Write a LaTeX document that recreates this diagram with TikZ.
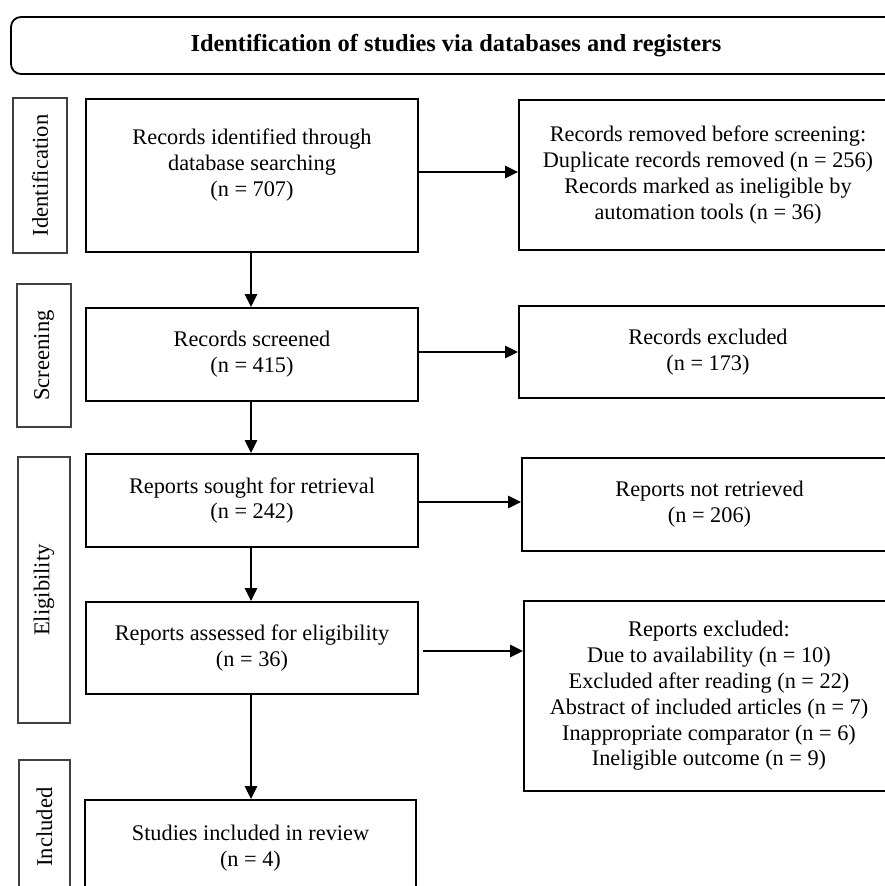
\documentclass[tikz,border=0pt]{standalone}
\usepackage{fontspec}
\setmainfont{Liberation Serif}
\usetikzlibrary{arrows.meta}
\begin{document}
\begin{tikzpicture}[x=1pt,y=-1pt,
  txt/.style={font=\fontsize{22.3}{25.8}\selectfont, align=center, inner sep=0pt},
  box/.style={draw, line width=2pt, inner sep=0pt, txt},
  lab/.style={draw=black!75, line width=1.2pt, inner sep=0pt, rotate=90, txt, font=\fontsize{22.6}{25.8}\selectfont},
  titlebox/.style={draw, line width=1.8pt, rounded corners=10pt, inner sep=0pt, txt, font=\fontsize{24.4}{25.8}\selectfont\bfseries},
  arr/.style={-{Triangle[length=13pt,width=12.5pt]}, line width=1.1pt}]
\useasboundingbox (0,0) rectangle (885,886);
\clip (0,0) rectangle (885,886);
% title
\node[titlebox, minimum width=890, minimum height=57] (title) at (456,45.5) {Identification of studies via databases and registers};
% stage labels
\node[lab, minimum width=155, minimum height=54] (lid) at (40,175.5) {Identification};
\node[lab, minimum width=143, minimum height=54] (lsc) at (44,355.5) {Screening};
\node[lab, minimum width=266, minimum height=52] (lel) at (44,590) {Eligibility};
\node[lab, minimum width=134, minimum height=51] (lin) at (44.5,827) {Included};
% main column
\node[box, minimum width=332, minimum height=153] (b1) at (252,175.5) {};
\node[txt] (b1t) at (252,165) {Records identified through\\database searching\\(n = 707)};
\node[box, minimum width=332, minimum height=93] (b2) at (252,354.5) {Records screened\\(n = 415)};
\node[box, minimum width=332, minimum height=93] (b3) at (252,500.5) {Reports sought for retrieval\\(n = 242)};
\node[box, minimum width=332, minimum height=92] (b4) at (252,648) {Reports assessed for eligibility\\(n = 36)};
\node[box, minimum width=331, minimum height=96] (b5) at (250.5,848) {Studies included in review\\(n = 4)};
% right column
\node[box, minimum width=378, minimum height=150] (r1) at (708,175) {Records removed before screening:\\Duplicate records removed (n = 256)\\Records marked as ineligible by\\automation tools (n = 36)};
\node[box, minimum width=378, minimum height=92] (r2) at (708,352) {Records excluded\\(n = 173)};
\node[box, minimum width=375, minimum height=93] (r3) at (709.5,504.5) {Reports not retrieved\\(n = 206)};
\node[box, minimum width=370, minimum height=190] (r4) at (709,696) {Reports excluded:\\Due to availability (n = 10)\\Excluded after reading (n = 22)\\Abstract of included articles (n = 7)\\Inappropriate comparator (n = 6)\\Ineligible outcome (n = 9)};
% vertical arrows
\draw[arr] (b1.south -| 251,0) -- (b2.north -| 251,0);
\draw[arr] (b2.south -| 251,0) -- (b3.north -| 251,0);
\draw[arr] (b3.south -| 251,0) -- (b4.north -| 251,0);
\draw[arr] (b4.south -| 251,0) -- (b5.north -| 251,0);
% horizontal arrows
\draw[arr] (b1.east |- 0,172) -- (r1.west |- 0,172);
\draw[arr] (b2.east |- r2.west) -- (r2.west);
\draw[arr] (b3.east |- 0,502) -- (r3.west |- 0,502);
\draw[arr] ([xshift=4pt]b4.east |- 0,651) -- (r4.west |- 0,651);
\end{tikzpicture}
\end{document}
